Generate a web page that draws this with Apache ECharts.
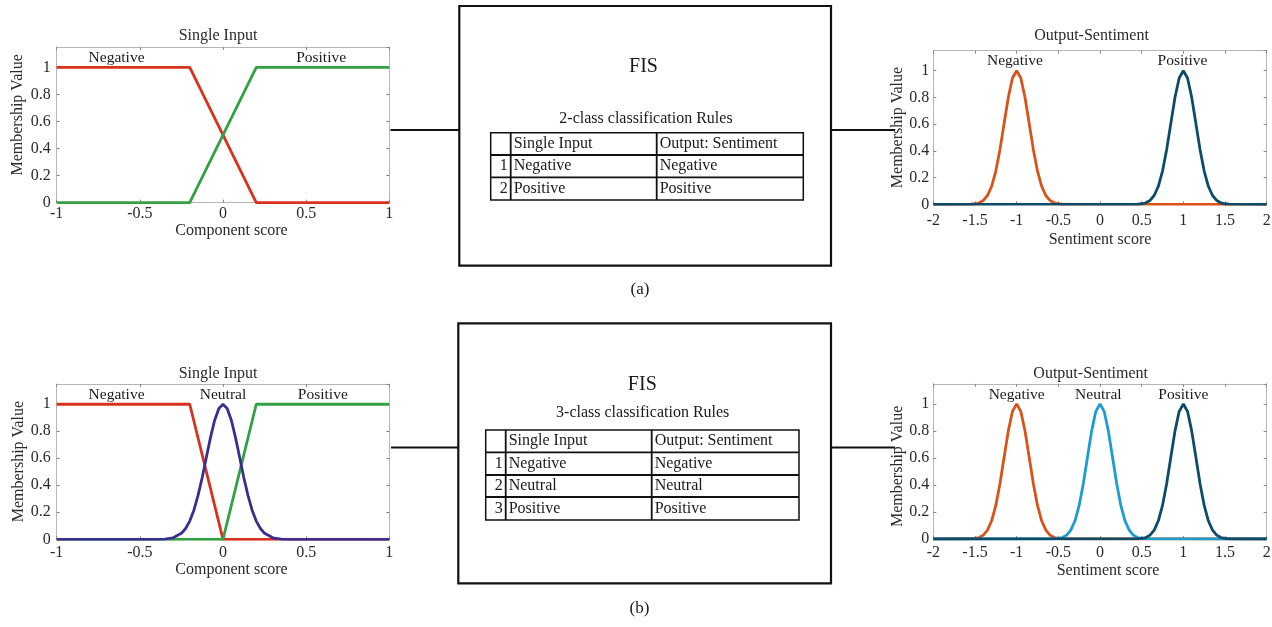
<!DOCTYPE html>
<html><head><meta charset="utf-8">
<script src="https://cdn.jsdelivr.net/npm/echarts@6/dist/echarts.min.js"></script>
<style>html,body{margin:0;padding:0;background:#fff}#c{width:1272px;height:627px}</style>
</head><body><div id="c"></div>
<script>
// ---------- data ----------
const yTicks = [0, 0.2, 0.4, 0.6, 0.8, 1];
const inputTicks = [-1, -0.5, 0, 0.5, 1];
const outputTicks = [-2, -1.5, -1, -0.5, 0, 0.5, 1, 1.5, 2];

// 2-class input membership (trapezoids)
const in2NegX = [-1, -0.2, 0.2, 1];
const in2NegY = [1, 1, 0, 0];
const in2PosX = [-1, -0.2, 0.2, 1];
const in2PosY = [0, 0, 1, 1];

// 3-class input membership
const in3NegX = [-1, -0.2, 0, 1];
const in3NegY = [1, 1, 0, 0];
const in3PosX = [-1, 0, 0.2, 1];
const in3PosY = [0, 0, 1, 1];
const in3NeuX = [-1, -0.4, -0.35, -0.3, -0.25, -0.225, -0.2, -0.175, -0.15, -0.125, -0.1, -0.075, -0.05, -0.025, 0,
                 0.025, 0.05, 0.075, 0.1, 0.125, 0.15, 0.175, 0.2, 0.225, 0.25, 0.3, 0.35, 0.4, 1];
const in3NeuY = [0, 0, 0.002, 0.011, 0.044, 0.080, 0.135, 0.216, 0.325, 0.458, 0.607, 0.755, 0.882, 0.969, 1,
                 0.969, 0.882, 0.755, 0.607, 0.458, 0.325, 0.216, 0.135, 0.080, 0.044, 0.011, 0.002, 0, 0];

// output sentiment membership
const outNegX = [-2, -1.55, -1.5, -1.45, -1.4, -1.35, -1.3, -1.25, -1.2, -1.15, -1.1, -1.05, -1,
                 -0.95, -0.9, -0.85, -0.8, -0.75, -0.7, -0.65, -0.6, -0.55, -0.5, -0.45, 2];
const outNegY = [0, 0.001, 0.004, 0.011, 0.029, 0.066, 0.135, 0.249, 0.411, 0.607, 0.801, 0.946, 1,
                 0.946, 0.801, 0.607, 0.411, 0.249, 0.135, 0.066, 0.029, 0.011, 0.004, 0.001, 0];
const outNeuX = [-2, -0.55, -0.5, -0.45, -0.4, -0.35, -0.3, -0.25, -0.2, -0.15, -0.1, -0.05, 0,
                 0.05, 0.1, 0.15, 0.2, 0.25, 0.3, 0.35, 0.4, 0.45, 0.5, 0.55, 2];
const outNeuY = [0, 0.001, 0.004, 0.011, 0.029, 0.066, 0.135, 0.249, 0.411, 0.607, 0.801, 0.946, 1,
                 0.946, 0.801, 0.607, 0.411, 0.249, 0.135, 0.066, 0.029, 0.011, 0.004, 0.001, 0];
const outPosX = [-2, 0.45, 0.5, 0.55, 0.6, 0.65, 0.7, 0.75, 0.8, 0.85, 0.9, 0.95, 1,
                 1.05, 1.1, 1.15, 1.2, 1.25, 1.3, 1.35, 1.4, 1.45, 1.5, 1.55, 2];
const outPosY = [0, 0.001, 0.004, 0.011, 0.029, 0.066, 0.135, 0.249, 0.411, 0.607, 0.801, 0.946, 1,
                 0.946, 0.801, 0.607, 0.411, 0.249, 0.135, 0.066, 0.029, 0.011, 0.004, 0.001, 0];

// curve labels [x, y, text]
const labelsA_in = [[-0.64, 1.066, 'Negative'], [0.59, 1.066, 'Positive']];
const labelsA_out = [[-1.02, 1.075, 'Negative'], [0.99, 1.075, 'Positive']];
const labelsB_in = [[-0.64, 1.069, 'Negative'], [0.0, 1.069, 'Neutral'], [0.6, 1.069, 'Positive']];
const labelsB_out = [[-1.0, 1.067, 'Negative'], [-0.02, 1.067, 'Neutral'], [1.0, 1.067, 'Positive']];

// rule tables
const tableHeader = ['', 'Single Input', 'Output: Sentiment'];
const rules2 = [['1', 'Negative', 'Negative'], ['2', 'Positive', 'Positive']];
const rules3 = [['1', 'Negative', 'Negative'], ['2', 'Neutral', 'Neutral'], ['3', 'Positive', 'Positive']];

// ---------- styling ----------
const FONT = '"Liberation Serif", "DejaVu Serif", serif';
const TXT = '#2a2a2a';
const AX = '#b5b5b5';
const C_RED = '#d8321f', C_GREEN = '#33a043', C_PURPLE = '#3a2e8e';
const C_ORANGE = '#d95319', C_LBLUE = '#1c9ccf', C_DBLUE = '#0e4b69';

const pair = (xs, ys) => xs.map((x, i) => [x, ys[i]]);

const grids = [
  {left: 56.7, top: 47.0, width: 332.6, height: 155.7},
  {left: 933.3, top: 50.7, width: 333.4, height: 153.6},
  {left: 56.7, top: 384.0, width: 332.6, height: 155.3},
  {left: 933.3, top: 383.8, width: 333.4, height: 155.2}
].map(g => Object.assign({outerBoundsMode: 'none', containLabel: false, show: false}, g));

const axisCfg = [
  {min: -1, max: 1, interval: 0.5, xname: 'Component score', xgap: 20, xlm: 3.5, xpad: [0, 0, 0, 17], ygap: 30.5, ylm: 6, ypad: [0, 0, 0, 20]},
  {min: -2, max: 2, interval: 0.5, xname: 'Sentiment score', xgap: 27.5, xlm: 8.5, xpad: [0, 0, 0, 0], ygap: 26.5, ylm: 4, ypad: [0, 0, 0, 0]},
  {min: -1, max: 1, interval: 0.5, xname: 'Component score', xgap: 20.5, xlm: 5.4, xpad: [0, 0, 0, 17], ygap: 30.4, ylm: 6, ypad: [0, 0, 0, 0]},
  {min: -2, max: 2, interval: 0.5, xname: 'Sentiment score', xgap: 23.5, xlm: 5.7, xpad: [0, 0, 0, 16], ygap: 26.5, ylm: 4, ypad: [0, 10, 0, 0]}
];

const xAxis = [], yAxis = [];
axisCfg.forEach((c, i) => {
  const common = {gridIndex: i, type: 'value', splitLine: {show: false},
    axisLine: {show: true, onZero: false, lineStyle: {color: AX, width: 1}},
    axisTick: {show: true, inside: true, length: 3, lineStyle: {color: '#888'}}};
  xAxis.push(Object.assign({}, common, {position: 'bottom', min: c.min, max: c.max, interval: c.interval,
    name: c.xname, nameLocation: 'middle', nameGap: c.xgap,
    nameTextStyle: {fontFamily: FONT, fontSize: 16, color: TXT, padding: c.xpad},
    axisLabel: {show: true, margin: c.xlm, fontFamily: FONT, fontSize: 16, color: TXT}}));
  xAxis.push(Object.assign({}, common, {position: 'top', min: c.min, max: c.max, interval: c.interval,
    axisLabel: {show: false}}));
  yAxis.push(Object.assign({}, common, {position: 'left', min: 0, max: 1.15, interval: 0.2,
    name: 'Membership Value', nameLocation: 'middle', nameGap: c.ygap, nameRotate: 90,
    nameTextStyle: {fontFamily: FONT, fontSize: 16, color: TXT, padding: c.ypad},
    axisLabel: {show: true, margin: c.ylm, fontFamily: FONT, fontSize: 16, color: TXT, showMaxLabel: false}}));
  yAxis.push(Object.assign({}, common, {position: 'right', min: 0, max: 1.15, interval: 0.2,
    axisLabel: {show: false}}));
});

function line(g, data, color) {
  return {type: 'line', xAxisIndex: 2 * g, yAxisIndex: 2 * g, data: data, showSymbol: false, symbol: 'none',
    lineStyle: {color: color, width: 2.8}, itemStyle: {color: color}, animation: false, silent: true};
}
function labels(g, arr) {
  return {type: 'scatter', xAxisIndex: 2 * g, yAxisIndex: 2 * g, symbolSize: 1, silent: true, animation: false,
    itemStyle: {color: 'rgba(0,0,0,0)', opacity: 1}, z: 5,
    data: arr.map(a => ({value: [a[0], a[1]], name: a[2]})),
    label: {show: true, position: 'inside', formatter: '{b}', fontFamily: FONT, fontSize: 15.5,
      color: '#1a1a1a', textBorderWidth: 0, textBorderColor: 'transparent', opacity: 1}};
}

const series = [
  line(0, pair(in2NegX, in2NegY), C_RED),
  line(0, pair(in2PosX, in2PosY), C_GREEN),
  labels(0, labelsA_in),
  line(1, pair(outNegX, outNegY), C_ORANGE),
  line(1, pair(outPosX, outPosY), C_DBLUE),
  labels(1, labelsA_out),
  line(2, pair(in3NegX, in3NegY), C_RED),
  line(2, pair(in3PosX, in3PosY), C_GREEN),
  line(2, pair(in3NeuX, in3NeuY), C_PURPLE),
  labels(2, labelsB_in),
  line(3, pair(outNegX, outNegY), C_ORANGE),
  line(3, pair(outNeuX, outNeuY), C_LBLUE),
  line(3, pair(outPosX, outPosY), C_DBLUE),
  labels(3, labelsB_out)
];

// ---------- diagram graphics ----------
const G = [];
function text(x, y, t, size, color, align) {
  G.push({type: 'text', x: x, y: y, silent: true,
    style: {text: t, fill: color || '#1a1a1a', font: size + 'px ' + FONT, align: align || 'center', verticalAlign: 'middle'}});
}
function hline(x1, x2, y, w) {
  G.push({type: 'line', silent: true, shape: {x1: x1, y1: y, x2: x2, y2: y}, style: {stroke: '#111', lineWidth: w}});
}
function vline(x, y1, y2, w) {
  G.push({type: 'line', silent: true, shape: {x1: x, y1: y1, x2: x, y2: y2}, style: {stroke: '#111', lineWidth: w}});
}
function box(x, y, w, h, lw) {
  G.push({type: 'rect', silent: true, shape: {x: x, y: y, width: w, height: h}, style: {fill: 'none', stroke: '#111', lineWidth: lw}});
}
function table(left, right, rowsY, colsX, header, rows) {
  box(left, rowsY[0], right - left, rowsY[rowsY.length - 1] - rowsY[0], 1.5);
  for (let i = 1; i < rowsY.length - 1; i++) hline(left, right, rowsY[i], 1.8);
  colsX.forEach(cx => vline(cx, rowsY[0], rowsY[rowsY.length - 1], 1.8));
  const all = [header].concat(rows);
  all.forEach((r, i) => {
    const cy = (rowsY[i] + rowsY[i + 1]) / 2;
    if (r[0]) text(colsX[0] - 3, cy, r[0], 16, '#1a1a1a', 'right');
    text(colsX[0] + 3, cy, r[1], 16, '#1a1a1a', 'left');
    text(colsX[1] + 3, cy, r[2], 16, '#1a1a1a', 'left');
  });
}

// titles
text(218, 36, 'Single Input', 16, TXT);
text(1091.5, 36, 'Output-Sentiment', 16, TXT);
text(218, 373.3, 'Single Input', 16, TXT);
text(1090.7, 374, 'Output-Sentiment', 16, TXT);

// panel (a)
box(459.3, 6, 371.7, 259.7, 2.2);
hline(390.5, 459.3, 130, 2.2);
hline(831, 895, 130, 2.2);
text(643.5, 66.7, 'FIS', 20);
text(646, 119, '2-class classification Rules', 16);
table(490.7, 803.3, [132.7, 155, 177.3, 200], [510.7, 656.7], tableHeader, rules2);
text(640, 290, '(a)', 17);

// panel (b)
box(458.3, 323.3, 372.7, 260, 2.2);
hline(391, 458.3, 447.5, 2.2);
hline(831, 895, 447.5, 2.2);
text(642.3, 385, 'FIS', 20);
text(642.7, 412.3, '3-class classification Rules', 16);
table(485.7, 799, [430, 452.3, 475, 497, 520], [505.7, 651.7], tableHeader, rules3);
text(639.5, 608.3, '(b)', 17);

const chart = echarts.init(document.getElementById('c'), null, {renderer: 'canvas'});
chart.setOption({
  animation: false,
  backgroundColor: '#fff',
  grid: grids,
  xAxis: xAxis,
  yAxis: yAxis,
  series: series,
  graphic: {elements: G}
});
</script>
</body></html>
